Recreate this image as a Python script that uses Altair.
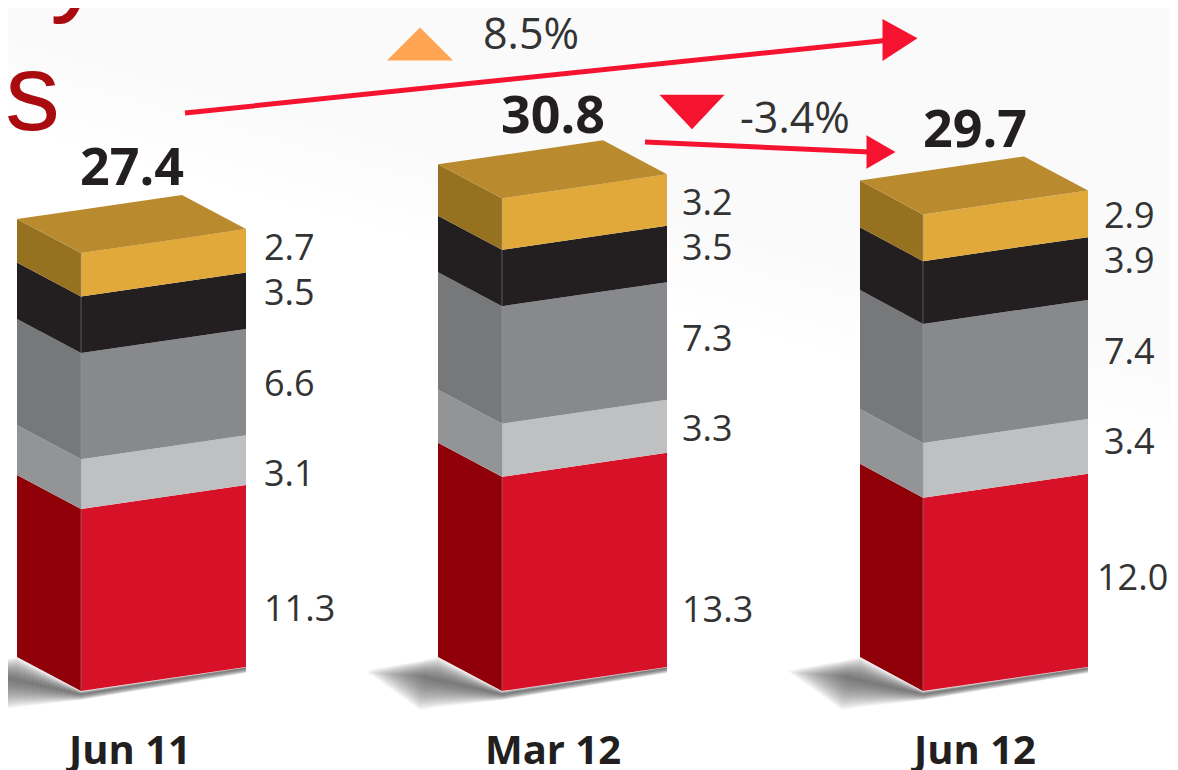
import altair as alt
import numpy as np
import pandas as pd

# ---- chart values ----
PERIODS = ["Jun 11", "Mar 12", "Jun 12"]
TOTALS = [27.4, 30.8, 29.7]
SERIES_RED = [11.3, 13.3, 12.0]
SERIES_LIGHT = [3.1, 3.3, 3.4]
SERIES_GREY = [6.6, 7.3, 7.4]
SERIES_BLACK = [3.5, 3.5, 3.9]
SERIES_GOLD = [2.7, 3.2, 2.9]
CHANGE_LABELS = ["8.5%", "-3.4%"]

# ---- geometry / style (page pixels of the 1178x770 window) ----
W, H, M = 1162, 762, 8
PX_PER_UNIT = 16.1
BASE_PX = 691
X_LEFT = [17, 438, 860]
X_MID = [81, 502, 923]
X_RIGHT = [246, 667, 1088]
RISE = 24 / PX_PER_UNIT
DROP = 34 / PX_PER_UNIT
BACK = 64
LABEL_X = [[264] * 5, [682] * 5, [1097, 1104, 1104, 1104, 1104]]
LABEL_CY = [[610, 475, 385, 294, 249], [611, 430, 340, 249, 204], [579, 443, 353, 262, 217]]
TOTAL_X = [132, 553, 975]
TOTAL_CY = [169, 117, 131]
PERIOD_X = [130, 553, 975]
FRONT = ["#D71128", "#BFC0C2", "#88898C", "#231F20", "#E0A93A"]
SIDE = ["#8F0008", "#939496", "#77787A", "#231F20", "#967120"]
TOP = "#BA8B2E"
INK = "#231F20"
ARROW = "#F5132F"
LABEL_FONT = "Open Sans"


def px(x):
    return x - M


def val(py):
    return (BASE_PX - py) / PX_PER_UNIT


x_scale = alt.Scale(domain=[0, W], range=[0, W], nice=False, zero=False)
y_scale = alt.Scale(domain=[val(M + H), val(M)], range=[H, 0], nice=False, zero=False)
X = alt.X("x:Q", scale=x_scale, axis=None)
Y = alt.Y("y:Q", scale=y_scale, axis=None, stack=None)
Y2 = alt.Y2("y2:Q")
YL = alt.Y("y:Q", scale=y_scale, axis=None)

# ---- faces ----
segments = [SERIES_RED, SERIES_LIGHT, SERIES_GREY, SERIES_BLACK, SERIES_GOLD]
rows, pid = [], 0
edges = []
for i in range(3):
    xl, xm, xr = X_LEFT[i], X_MID[i], X_RIGHT[i]
    v = 0.0
    for s, series in enumerate(segments):
        lo, hi = v, v + series[i]
        pid += 1
        rows += [
            dict(x=px(xl), y=lo + DROP, y2=hi + DROP, c=SIDE[s], p=pid),
            dict(x=px(xm), y=lo, y2=hi, c=SIDE[s], p=pid),
        ]
        pid += 1
        rows += [
            dict(x=px(xm), y=lo, y2=hi, c=FRONT[s], p=pid),
            dict(x=px(xr), y=lo + RISE, y2=hi + RISE, c=FRONT[s], p=pid),
        ]
        v = hi
    edges += [dict(x=px(xm), y=0.0, e=i), dict(x=px(xm), y=v, e=i)]
    # top face: lower and upper envelopes of the parallelogram
    xb = xr - BACK
    xs = [xl, xm, xb, xr]
    lower = np.interp(xs, [xl, xm, xr], [v + DROP, v, v + RISE])
    upper = np.interp(xs, [xl, xb, xr], [v + DROP, v + DROP + RISE, v + RISE])
    pid += 1
    for a, b, c in zip(xs, lower, upper):
        rows.append(dict(x=px(a), y=float(b), y2=float(c), c=TOP, p=pid))
faces_df = pd.DataFrame(rows)
face_layers = [
    alt.Chart(faces_df[faces_df.c == colour])
    .mark_area(color=colour, interpolate="linear", strokeWidth=0)
    .encode(x=X, y=Y, y2=Y2, detail="p:N")
    for colour in faces_df.c.unique()
]
edge_lines = (
    alt.Chart(pd.DataFrame(edges))
    .mark_line(color="#A0A0A0", opacity=0.22, strokeWidth=2)
    .encode(x=X, y=YL, detail="e:N")
)

# ---- soft floor shadows: nested translucent areas ----
shadow_layers = []
LEVELS = 24
for i in range(3):
    xl, xm, xr = X_LEFT[i], X_MID[i], X_RIGHT[i]
    xs = np.array([xl - 73, xl - 18, xl, xm, xr], dtype=float)
    outer_top = np.array([670, 661, 657, 691, 667], dtype=float)
    outer_low = np.array([671, 710, 707, 700, 673], dtype=float)
    core = np.array([672, 676, 680, 694, 668], dtype=float)
    sh = []
    for k in range(1, LEVELS + 1):
        t = k / LEVELS
        tp = core + (outer_top - core) * t
        lw = core + (outer_low - core) * t
        for a, b, c in zip(xs, tp, lw):
            sh.append(dict(x=px(float(a)), y=float(val(b)), y2=float(val(c)), k=k))
    f = 60 / (xr - xs[0])
    grad = alt.LinearGradient(
        gradient="linear", x1=0, x2=1, y1=0, y2=0,
        stops=[
            alt.GradientStop(color="rgba(68,68,68,0)", offset=0),
            alt.GradientStop(color="rgba(68,68,68,1)", offset=f),
            alt.GradientStop(color="rgba(68,68,68,1)", offset=1),
        ],
    )
    shadow_layers.append(
        alt.Chart(pd.DataFrame(sh))
        .mark_area(color=grad, opacity=0.05, strokeWidth=0)
        .encode(x=X, y=Y, y2=Y2, detail="k:N")
    )

# ---- faint background band with a soft lower edge ----
band_layers = []
for off in [0, 20, 40, 60, 80]:
    band_layers.append(
        alt.Chart(pd.DataFrame({"x": [0, W], "y": [val(M + 35 + off), val(M + 355 + off)], "y2": [val(M), val(M)]}))
        .mark_area(color="#F2F2F2", opacity=0.07, strokeWidth=0)
        .encode(x=X, y=Y, y2=Y2)
    )

# ---- arrows ----
lines = pd.DataFrame(
    {
        "x": [px(185), px(890), px(645), px(870)],
        "y": [val(113), val(40), val(142), val(152)],
        "a": ["up", "up", "down", "down"],
    }
)
arrow_lines = (
    alt.Chart(lines)
    .mark_line(color=ARROW, strokeWidth=5, strokeCap="butt")
    .encode(x=X, y=YL, detail="a:N")
)


def glyph(path, cx, cy, size, color):
    d = pd.DataFrame({"x": [px(cx)], "y": [val(cy)]})
    return (
        alt.Chart(d)
        .mark_point(shape=path, size=size, filled=True, color=color, opacity=1, strokeWidth=0)
        .encode(x=X, y=YL)
    )


glyphs = [
    glyph("M-1,-1.2L1,-0.1L-1,1.2Z", 900, 40, 1225, ARROW),
    glyph("M-1,-1.15L1,0L-1,1.15Z", 881, 152, 841, ARROW),
    glyph("M-1,0.5L0,-0.5L1,0.5Z", 420, 44, 4356, "#FFA552"),
    glyph("M-1,-0.53L0,0.53L1,-0.53Z", 692, 112, 4225, ARROW),
]

# ---- texts ----
value_rows = []
for i in range(3):
    for s, series in enumerate(segments):
        value_rows.append(dict(x=px(LABEL_X[i][s]), y=val(LABEL_CY[i][s]), t=f"{series[i]:.1f}"))
values = (
    alt.Chart(pd.DataFrame(value_rows))
    .mark_text(font=LABEL_FONT, fontSize=36, color="#333333", align="left", baseline="middle")
    .encode(x=X, y=YL, text="t:N")
)
totals = (
    alt.Chart(
        pd.DataFrame(
            {
                "x": [px(a) for a in TOTAL_X],
                "y": [val(a) for a in TOTAL_CY],
                "t": [f"{a:.1f}" for a in TOTALS],
            }
        )
    )
    .mark_text(font=LABEL_FONT, fontSize=52, fontWeight="bold", color=INK, align="center", baseline="middle")
    .encode(x=X, y=YL, text="t:N")
)
periods = (
    alt.Chart(pd.DataFrame({"x": [px(a) for a in PERIOD_X], "y": [val(752)] * 3, "t": PERIODS}))
    .mark_text(font=LABEL_FONT, fontSize=40, fontWeight="bold", color=INK, align="center", baseline="middle")
    .encode(x=X, y=YL, text="t:N")
)
changes = (
    alt.Chart(pd.DataFrame({"x": [px(483), px(740)], "y": [val(36), val(120)], "t": CHANGE_LABELS}))
    .mark_text(font=LABEL_FONT, fontSize=43, color="#333333", align="left", baseline="middle")
    .encode(x=X, y=YL, text="t:N")
)
heading = (
    alt.Chart(pd.DataFrame({"x": [px(50), px(5)], "y": [val(1), val(130)], "t": ["y", "s"]}))
    .mark_text(font="Liberation Sans", fontSize=110, color="#A90B0E", align="left", baseline="alphabetic")
    .encode(x=X, y=YL, text="t:N")
)

chart = (
    alt.layer(*band_layers, *shadow_layers, *face_layers, edge_lines, arrow_lines, *glyphs, values, totals, periods, changes, heading)
    .properties(width=W, height=H, padding=0, autosize=alt.AutoSizeParams(type="none"), background="white")
    .configure_view(stroke=None)
)
chart.save("out.html", embed_options={"renderer": "svg", "actions": False})
